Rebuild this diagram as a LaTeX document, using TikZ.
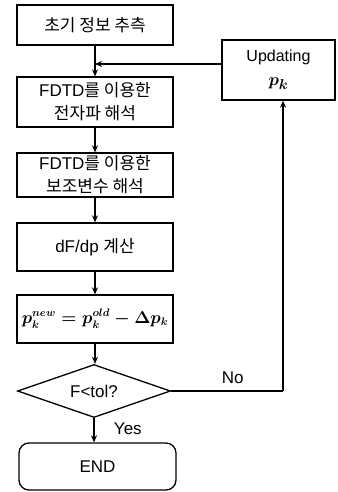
\documentclass[tikz,border=0pt]{standalone}
\usepackage{fontspec}
\usepackage{amsmath}
\setmainfont{Liberation Sans}
\newfontfamily\kr{Noto Sans CJK KR}
\usetikzlibrary{shapes.geometric,arrows.meta}
\newcommand{\ko}[1]{{\kr #1}}
\begin{document}
\begin{tikzpicture}[x=1pt,y=-1pt,
  every node/.style={font=\fontsize{17}{23}\selectfont},
  box/.style={draw, line width=1.3pt, minimum width=156pt, inner sep=0pt, align=center},
  arr/.style={line width=1.3pt, -{Stealth[length=7pt,width=6pt]}},
  ln/.style={line width=1.3pt}]
\useasboundingbox (0,0) rectangle (337,492);
\node[box, minimum height=40pt] (b1) at (95,25) {\ko{초기 정보 추측}};
\node[box, minimum height=50pt] (b2) at (95,102) {FDTD\ko{를 이용한}\\\ko{전자파 해석}};
\node[box, minimum height=44pt] (b3) at (95,175) {FDTD\ko{를 이용한}\\\ko{보조변수 해석}};
\node[box, minimum height=48pt] (b4) at (95,247) {dF/dp \ko{계산}};
\node[box, minimum height=48pt, font=\fontsize{16}{20}\selectfont] (b5) at (95,319) {$\boldsymbol{p_k^{new}=p_k^{old}-\Delta p_k}$};
\node[draw, line width=1.3pt, diamond, minimum width=153pt, minimum height=53pt, inner sep=0pt, aspect=2.9] (d) at (94,391) {F<tol?};
\node[draw, line width=1.3pt, rounded corners=10pt, minimum width=157pt, minimum height=47pt] (e) at (97.5,466.5) {END};
\node[box, minimum width=113pt, minimum height=60pt, font=\fontsize{16}{24}\selectfont] (u) at (278.5,70) {Updating\\{\fontsize{19}{24}\selectfont$\boldsymbol{p_k}$}};
\coordinate (j) at (95,64);
\coordinate (c) at (283,391);
\draw[arr] (b1) -- (b2);
\draw[arr] (u.west |- j) -- (j);
\draw[arr] (b2) -- (b3);
\draw[arr] (b3) -- (b4);
\draw[arr] (b4) -- (b5);
\draw[arr] (b5.south) -- (b5.south |- d.north);
\draw[arr] (d.south) -- (d.south |- e.north) node[pos=0.45, right=16pt] {Yes};
\draw[ln] (d.east) -- (c) node[pos=0.55, above=3pt] {No};
\draw[arr] (c) -- (c |- u.south);
\end{tikzpicture}
\end{document}
